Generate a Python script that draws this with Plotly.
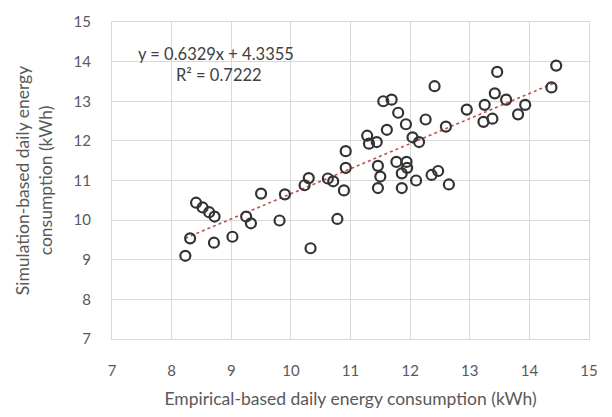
import plotly.graph_objects as go

# Empirical-based (x) and simulation-based (y) daily energy consumption (kWh)
empirical = [8.23, 8.31, 8.41, 8.52, 8.63, 8.72, 8.71, 9.02, 9.25, 9.33, 9.50, 9.81,
             9.90, 10.23, 10.30, 10.33, 10.62, 10.71, 10.78, 10.89, 10.92, 10.92,
             11.28, 11.31, 11.44, 11.55, 11.69, 11.61, 11.80, 11.93, 11.46, 11.50,
             11.46, 11.77, 11.94, 11.86, 11.95, 11.86, 12.04, 12.15, 12.10, 12.26,
             12.41, 12.36, 12.47, 12.65, 12.60, 12.95, 13.25, 13.23, 13.38, 13.42,
             13.46, 13.61, 13.81, 13.93, 14.37, 14.45]
simulated = [9.10, 9.54, 10.44, 10.32, 10.20, 10.09, 9.43, 9.58, 10.09, 9.92, 10.67, 9.99,
             10.65, 10.88, 11.06, 9.29, 11.05, 10.98, 10.03, 10.75, 11.32, 11.74,
             12.13, 11.93, 11.97, 13.00, 13.04, 12.28, 12.71, 12.42, 11.37, 11.10,
             10.81, 11.47, 11.47, 11.18, 11.32, 10.81, 12.09, 11.97, 11.00, 12.54,
             13.38, 11.14, 11.24, 10.90, 12.36, 12.79, 12.91, 12.48, 12.56, 13.20,
             13.74, 13.04, 12.67, 12.91, 13.35, 13.90]

slope, intercept = 0.6329, 4.3355
eq_text = "y = 0.6329x + 4.3355"
r2_text = "R² = 0.7222"
tick_vals = [7, 8, 9, 10, 11, 12, 13, 14, 15]

x_fit = [min(empirical), max(empirical)]
y_fit = [slope * v + intercept for v in x_fit]

FONT = "Lato"
GRID = "#d9d9d9"
TXT = "#595959"

fig = go.Figure()
fig.add_trace(go.Scatter(
    x=x_fit, y=y_fit, mode="lines",
    line=dict(color="#c0504d", width=1.6, dash="dot"),
    hoverinfo="skip", showlegend=False))
fig.add_trace(go.Scatter(
    x=empirical, y=simulated, mode="markers",
    marker=dict(symbol="circle-open", size=10, color="#333333",
                line=dict(width=2.2, color="#333333")),
    showlegend=False))

fig.add_annotation(x=8.74, y=14.19, xref="x", yref="y", text=eq_text,
                   showarrow=False, font=dict(family=FONT, size=16.5, color="#404040"))
fig.add_annotation(x=8.80, y=13.65, xref="x", yref="y", text=r2_text,
                   showarrow=False, font=dict(family=FONT, size=16.5, color="#404040"))

axis_common = dict(
    range=[7, 15], tickvals=tick_vals, showgrid=True, gridcolor=GRID, gridwidth=1,
    zeroline=False, showline=True, linecolor=GRID, linewidth=1, mirror=True,
    ticks="", tickfont=dict(family=FONT, size=15, color=TXT),
)

fig.update_xaxes(**axis_common, ticklabelstandoff=18,
                 title=dict(text="Empirical-based daily energy consumption (kWh)",
                            font=dict(family=FONT, size=17.5, color=TXT), standoff=14))
fig.update_yaxes(**axis_common, ticklabelstandoff=17,
                 title=dict(text="Simulation-based daily energy<br>consumption (kWh)",
                            font=dict(family=FONT, size=17.5, color=TXT), standoff=16))

fig.update_layout(
    width=612, height=417,
    margin=dict(l=112, r=23, t=17, b=76),
    paper_bgcolor="white", plot_bgcolor="white",
    font=dict(family=FONT),
)

fig.write_html("out.html")
